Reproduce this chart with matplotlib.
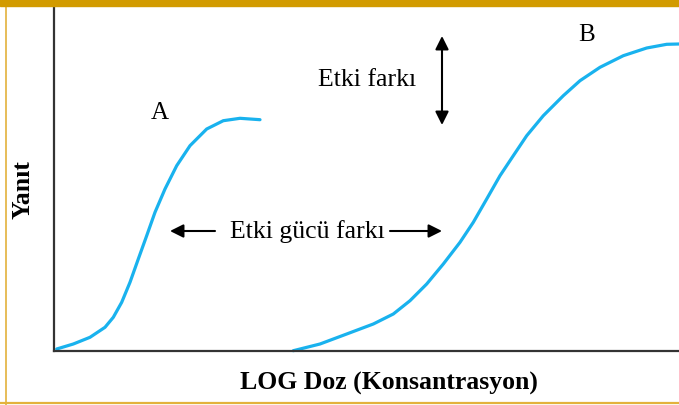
import matplotlib.pyplot as plt
from matplotlib.patches import Rectangle
from matplotlib.lines import Line2D

# curve values (dose units, response units)
dose_a = [2.7, 19.3, 36, 51, 59.3, 67.7, 76, 84.3, 92.7, 101, 111, 122.7, 136, 152.7, 169.3, 186, 206]
resp_a = [2, 7, 13.7, 23.7, 33.7, 48.7, 68.7, 92, 115.3, 138.7, 162, 185.3, 205.3, 222, 230.3, 232.7, 231.3]

dose_b = [239.3, 266, 292.7, 319.3, 339.3, 356, 372.7, 389.3, 406, 419.3, 432.7, 446, 459.3,
          472.7, 489.3, 509.3, 526, 546, 569.3, 592.7, 612.7, 625]
resp_b = [0.3, 7, 17, 27, 37, 50.3, 67, 87, 108.7, 128.7, 152, 175.3, 195.3,
          215.3, 235.3, 255.3, 270.3, 283.7, 295.3, 303, 306.7, 307]

FONT = 'Liberation Serif'
BLUE = '#19B2EE'

fig = plt.figure(figsize=(6.79, 4.06), dpi=100)
ax = fig.add_axes([54 / 679, 54 / 406, 625 / 679, 344 / 406])

for xs, ys in [(dose_a, resp_a), (dose_b, resp_b)]:
    ax.plot(xs, ys, color=BLUE, lw=2.3, solid_capstyle='round',
            solid_joinstyle='round', clip_on=False)

ax.set_xlim(0, 625)
ax.set_ylim(0, 344)
ax.set_xticks([])
ax.set_yticks([])
for side in ['top', 'right']:
    ax.spines[side].set_visible(False)
for side in ['left', 'bottom']:
    ax.spines[side].set_color('#333333')
    ax.spines[side].set_linewidth(1.6)

# labels
ax.text(106, 239, 'A', fontsize=18, family=FONT, ha='center', va='center')
ax.text(533, 317, 'B', fontsize=18, family=FONT, ha='center', va='center')
ax.text(313, 272, 'Etki farkı', fontsize=18.5, family=FONT, ha='center', va='center')
ax.text(253, 120, 'Etki gücü farkı', fontsize=18.5, family=FONT, ha='center', va='center')

arrow = dict(arrowstyle='-|>', color='black', lw=1.5, mutation_scale=20, shrinkA=0, shrinkB=0)
ax.annotate('', xy=(116, 120), xytext=(161, 120), arrowprops=arrow)
ax.annotate('', xy=(388, 120), xytext=(336, 120), arrowprops=arrow)
ax.annotate('', xy=(388, 315), xytext=(388, 226),
            arrowprops=dict(arrow, arrowstyle='<|-|>'))

fig.text(389 / 679, 1 - 383 / 406, 'LOG Doz (Konsantrasyon)', fontsize=18.5,
         family=FONT, fontweight='bold', ha='center', va='center')
fig.text(23 / 679, 1 - 190 / 406, 'Yanıt', fontsize=18.5, family=FONT,
         fontweight='bold', rotation=90, ha='center', va='center')

# gold frame
fig.patches.append(Rectangle((0, 1 - 7 / 406), 1, 7 / 406, transform=fig.transFigure,
                             color='#D29B00', zorder=5))
fig.lines.append(Line2D([6 / 679, 6 / 679], [0, 1], transform=fig.transFigure,
                        color='#E3B23C', lw=1.2))
fig.lines.append(Line2D([0, 1], [2.5 / 406, 2.5 / 406], transform=fig.transFigure,
                        color='#E3B23C', lw=1.6))

fig.savefig('out.png', dpi=100)
